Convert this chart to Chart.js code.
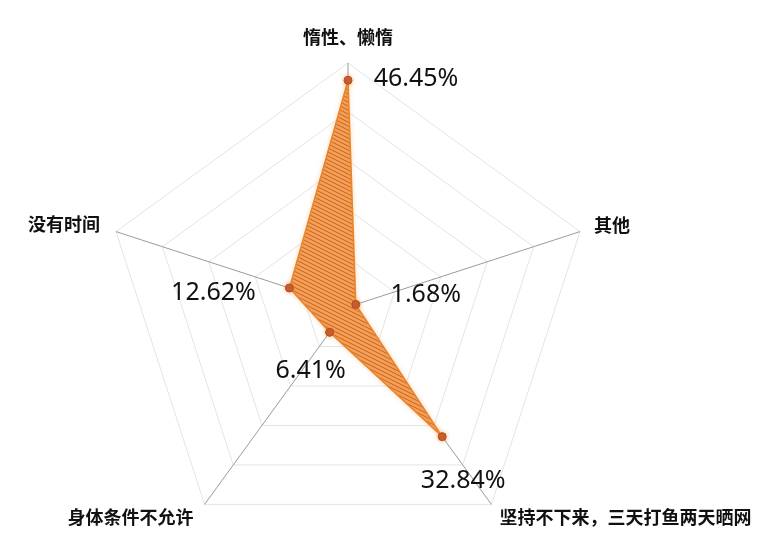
<!DOCTYPE html>
<html>
<head>
<meta charset="utf-8">
<script src="https://cdn.jsdelivr.net/npm/chart.js@4/dist/chart.umd.min.js"></script>
<style>
  html, body { margin: 0; padding: 0; background: #fff; overflow: hidden; }
  #wrap { position: absolute; left: 0; top: 0; width: 768px; height: 614px; }
</style>
</head>
<body>
<div id="wrap"><canvas id="radar"></canvas></div>
<script>
// ── données ──────────────────────────────────────────────
const categories = ['惰性、懒惰', '其他', '坚持不下来，三天打鱼两天晒网', '身体条件不允许', '没有时间'];
const percentages = [46.45, 1.68, 32.84, 6.41, 12.62];
const valueLabels = ['46.45%', '1.68%', '32.84%', '6.41%', '12.62%'];
const scaleMax = 50;
const scaleStep = 10;

// décalages des étiquettes (en px) par rapport au point / au sommet
const valueOffsets = [[68, -1], [70, -10], [21, 44], [-19, 39], [-76, 5]];
const labelOffsets = [[0, -26, 'center'], [14, -6, 'left'], [8, 13, 'left'], [-11, 13, 'right'], [-16, -7, 'right']];

// motif hachuré pour le remplissage
function makeHatch() {
    const c = document.createElement('canvas');
    c.width = 8; c.height = 4;
    const g = c.getContext('2d');
    g.fillStyle = '#f6a055';
    g.fillRect(0, 0, 8, 4);
    g.strokeStyle = '#c2622a';
    g.lineWidth = 1;
    for (let k = -2; k <= 2; k++) {
        g.beginPath();
        g.moveTo(-8, -4 + k * 4);
        g.lineTo(16, 8 + k * 4);
        g.stroke();
    }
    return g.createPattern(c, 'repeat');
}

// léger halo orange autour du polygone
const glowPlugin = {
    id: 'glow',
    beforeDatasetDraw(chart) {
        chart.ctx.save();
        chart.ctx.shadowColor = 'rgba(245, 150, 60, 0.6)';
        chart.ctx.shadowBlur = 4;
    },
    afterDatasetDraw(chart) {
        chart.ctx.restore();
    }
};

const labelPlugin = {
    id: 'labels',
    afterDatasetsDraw(chart) {
        const scale = chart.scales.r;
        const ctx = chart.ctx;
        ctx.save();
        ctx.fillStyle = '#111';
        ctx.textBaseline = 'middle';

        // pourcentages
        ctx.font = '25px "Noto Sans", "Liberation Sans", sans-serif';
        ctx.textAlign = 'center';
        percentages.forEach((v, i) => {
            const p = scale.getPointPositionForValue(i, v);
            ctx.fillText(valueLabels[i], p.x + valueOffsets[i][0], p.y + valueOffsets[i][1]);
        });

        // noms des catégories
        ctx.font = 'bold 18px "Noto Sans CJK SC", sans-serif';
        categories.forEach((name, i) => {
            const p = scale.getPointPositionForValue(i, scaleMax);
            ctx.textAlign = labelOffsets[i][2];
            ctx.fillText(name, p.x + labelOffsets[i][0], p.y + labelOffsets[i][1]);
        });
        ctx.restore();
    }
};

new Chart(document.getElementById('radar'), {
    type: 'radar',
    data: {
        labels: categories,
        datasets: [{
            data: percentages,
            backgroundColor: makeHatch(),
            borderColor: '#e8842c',
            borderWidth: 1.5,
            fill: true,
            pointRadius: 4,
            pointBackgroundColor: '#c4562e',
            pointBorderColor: '#b04a24',
            pointBorderWidth: 1
        }]
    },
    options: {
        responsive: true,
        maintainAspectRatio: false,
        animation: false,
        layout: { padding: { left: 104, right: 176, top: 63, bottom: 63 } },
        plugins: { legend: { display: false }, tooltip: { enabled: false } },
        scales: {
            r: {
                min: 0,
                max: scaleMax,
                ticks: { stepSize: scaleStep, display: false },
                grid: { color: '#e4e4e4', lineWidth: 1 },
                angleLines: { color: '#9a9a9a', lineWidth: 1 },
                pointLabels: { display: false }
            }
        }
    },
    plugins: [glowPlugin, labelPlugin]
});
</script>
</body>
</html>
